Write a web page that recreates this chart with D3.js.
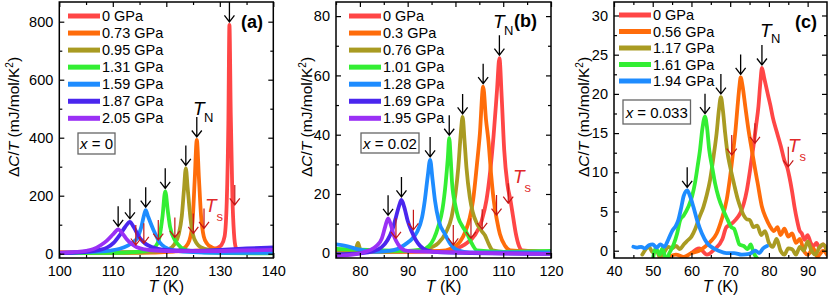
<!DOCTYPE html>
<html>
<head>
<meta charset="utf-8">
<script src="https://cdn.jsdelivr.net/npm/d3@7"></script>
<style>
  body { margin: 0; background: #fff; }
  svg text { font-family: 'Liberation Sans', Arial, Helvetica, sans-serif; }
</style>
</head>
<body>
<script>
// ---- data: [T (K), dC/T] ----

// (a) x = 0
const a0 = [[100,5],[105,6],[110,5],[115,6],[120,8],[125,10],[128,14],[129.5,20],[130.3,30],[130.9,60],[131.3,180],[131.6,450],[131.8,789],[132.05,480],[132.35,200],[132.65,70],[133,20],[133.5,6],[135,3],[140,3]];
const a1 = [[100,3],[110,3],[118,4],[121,7],[122.5,12],[123.5,22],[124.3,45],[124.9,110],[125.3,250],[125.7,392],[126.1,260],[126.5,130],[127,60],[127.6,35],[128.5,22],[130,14],[133,8],[140,4]];
const a2 = [[100,2],[110,3],[116,5],[119,9],[120.5,16],[121.5,32],[122.3,65],[122.9,130],[123.3,220],[123.65,294],[124,225],[124.5,125],[125,65],[125.7,35],[126.5,22],[128,13],[132,7],[140,4]];
const a3 = [[100,2],[108,3],[113,5],[115.5,8],[117,14],[118,25],[118.7,55],[119.3,130],[119.8,215],[120.3,145],[120.7,93],[121.6,47],[122.3,30],[123,18],[125,8],[130,3],[140,1]];
const a4 = [[100,3],[104,5],[107,7],[109.5,11],[111.3,17],[112.8,28],[113.8,40],[114.6,55],[115.3,90],[115.8,130],[116.15,150],[116.6,128],[117.6,82],[118.8,38],[119.8,22],[121,13],[124,6],[130,3],[140,3]];
const a5 = [[100,2],[103,4],[105.5,7],[107.5,13],[108.9,21],[110.2,38],[111.3,64],[112.3,92],[113.2,110],[113.9,92],[115.1,53],[116.2,33],[117.5,22],[119,15],[122,11],[126,10],[130,13],[135,18],[140,22]];
const a6 = [[100,3],[103,6],[105,10],[106.4,16],[107.8,30],[108.9,45],[110,66],[110.5,76],[111,84],[111.8,70],[112.6,50],[113.5,34],[114.5,22],[116,15],[118,11],[122,9],[128,9],[134,11],[140,13]];
const labelsA = ["0 GPa", "0.73 GPa", "0.95 GPa", "1.31 GPa", "1.59 GPa", "1.87 GPa", "2.05 GPa"];
const tnA = [[131.8,789],[125.7,392],[123.65,294],[119.8,215],[116.15,150],[113.2,110],[111,84]];
const tsA = [[114.3,30],[115.8,36],[118.5,47],[121.6,56],[125.05,70],[127.05,87],[132.8,168]];

// (b) x = 0.02
const b0 = [[75,0.5],[90,0.5],[98,0.8],[100,1.5],[102,3],[104,6],[105.5,11],[106.5,18],[107.3,28],[108,40],[108.7,55],[109.2,65.8],[109.7,52],[110.2,35],[110.9,23],[111.5,18],[112,13],[112.6,7],[113.3,2.5],[114,1],[120,0.5]];
const b1 = [[75,0.5],[90,0.6],[95,0.7],[98,1],[100,2.5],[101,4],[102,7],[103,12],[103.7,18],[104.5,30],[105.1,40],[105.8,56.2],[106.4,45],[106.9,38],[107.5,26],[108,18],[108.7,11],[109.3,6.5],[110.4,2.5],[111.5,1],[120,0.5]];
const b2 = [[75,0.5],[79,0.8],[79.6,3.5],[80.2,0.8],[85,0.5],[90,0.7],[94,1.5],[96.4,3.4],[98,7],[99.2,12.3],[100,20],[100.6,29],[101.1,40],[101.5,46],[101.9,38],[102.3,29],[103,19],[103.6,14],[104.5,10],[105.5,7.5],[106.2,6],[107,3],[107.8,1],[110,0.5],[120,0.5]];
const b3 = [[75,1.5],[80,1.2],[85,1],[90,0.8],[93,1.2],[94.5,2.5],[95.5,5],[96.4,9],[97.3,15],[97.95,23.6],[98.4,32],[98.7,38.8],[99,32],[99.3,23.6],[100,16],[100.6,12],[101.5,9],[102.5,6.5],[103.2,4],[104.5,1],[110,0.5],[120,0.8]];
const b4 = [[75,3],[77,2.5],[80,1.2],[83,0.5],[86,0.8],[88,1.5],[89.5,3],[91,5],[91.9,7],[93,12],[93.6,18],[94.2,26],[94.7,31.5],[95.2,25],[95.7,18],[96.5,11],[97.8,6.5],[99,3],[100.5,1],[103,0.3],[120,0.3]];
const b5 = [[75,-0.3],[80,0],[83,0.8],[84.5,2],[85.8,4.5],[86.8,8],[87.6,12.5],[88.2,16],[88.7,18],[89.3,15.5],[90,11],[90.8,7.5],[91.7,4.5],[92.6,2.5],[94,1],[97,0.3],[120,-0.2]];
const b6 = [[75,-0.8],[78,-0.5],[80,0],[82,1],[83.5,2.5],[84.6,5],[85.3,9],[85.9,11.8],[86.5,9.5],[87.2,5.5],[88,3],[88.8,1.5],[90,0.8],[95,0.5],[100,0.3],[110,0],[120,-0.2]];
const labelsB = ["0 GPa", "0.3 GPa", "0.76 GPa", "1.01 GPa", "1.28 GPa", "1.69 GPa", "1.95 GPa"];
const tnB = [[109.2,65.8],[105.8,56.2],[101.5,46],[98.7,38.8],[94.7,31.5],[88.7,18],[85.9,11.8]];
const tsB = [[87.55,5.05],[91.2,7.9],[99.55,2.8],[103.25,5.05],[105.6,8.1],[108.6,12.9],[111.05,16.9]];

// (c) x = 0.033
const c0 = [[60,-0.3],[62,0.3],[64,-0.5],[66,0.2],[68,1.5],[69,3],[70,3.3],[71.5,4],[72.6,4.8],[73.5,6],[74.3,7.7],[75.2,10.5],[76,13.3],[76.7,16],[77.3,18.4],[77.8,21.5],[78.2,23.3],[78.8,22],[79.7,20],[80.4,18.5],[81,17],[82,15.2],[83.1,13.3],[84,11.5],[84.8,10.5],[85.3,9.4],[86,7.5],[86.6,5.6],[87.3,3.8],[87.9,2.6],[88.5,2.2],[89.2,1.4],[90,2],[90.8,1],[91.5,0.6],[92.3,1],[93,0.4],[94,0.8],[95,0]];
const c1 = [[54,-0.8],[56,-0.5],[58,-0.8],[60,-0.3],[62,0],[63.5,0.5],[65,1.2],[66.5,2.2],[67.8,4],[69.1,6.5],[70,9.5],[70.8,12.8],[71.4,15.5],[71.9,18.4],[72.4,21],[72.7,22.1],[73.2,21],[73.9,18.4],[74.7,15.5],[75.6,12.8],[76.4,10.5],[77.1,8.6],[78.2,5.6],[79.2,4.2],[80.3,3.1],[81.3,2.5],[82.2,3],[83,2],[84,2.8],[85,1.8],[86,2.2],[87,1],[88,1.5],[89,0],[90,-0.5],[91.5,0.3],[92.5,-0.8],[94,0],[95,-0.5]];
const c2 = [[47.3,-0.5],[49,0.5],[50,-0.2],[51,0],[52,-1],[53,-0.2],[54,0.5],[55,0.3],[56,0.6],[57,0.2],[58,0.8],[59,1.3],[60,1.8],[61,2.8],[62,4.2],[63.1,5.6],[64,7.2],[64.8,9],[65.7,12],[66.5,15],[67.1,18],[67.6,19.6],[68.1,18],[68.7,15],[69.3,12.5],[70,10.7],[71,8.5],[72,6.5],[72.6,5.6],[73.5,4.5],[74.3,4],[75.1,3.9],[76,3],[77,3.2],[78,2],[79,2.5],[80,1],[81,0.5],[82,1.5],[83,0],[84,-0.5],[85,0.3],[86,0.2],[87,-0.5],[88,0.5],[89,0],[90,1.2],[91,0],[92,-0.5],[93,0.4],[94,0.8],[95,0]];
const c3 = [[50,-1.2],[50.8,0.3],[51.8,-0.5],[52.5,0.3],[53.5,-1.2],[54.3,-0.3],[55.4,0.8],[56.3,2.2],[57.1,3.9],[58,4.5],[59.2,5.6],[60.2,7],[60.9,8.6],[61.6,10.8],[62.2,12.8],[62.8,15.5],[63.5,17.1],[64,15.8],[64.6,12.8],[65.3,10.8],[66.1,8.6],[67,6.8],[68.2,5.2],[69.3,4],[70.3,3],[71,2.8],[71.7,1.8],[72.4,0.8],[73.5,0.6],[74.5,0.2],[75.3,0.8],[76,-0.2],[77,-1]];
const c4 = [[45,0.5],[46,0.4],[47,0.5],[48,0.3],[49,0.7],[50,0.8],[51,0.4],[52,0.8],[53,0.5],[54,1.4],[55,2.5],[56,3.2],[56.6,3.9],[57.4,5.6],[58,7],[58.9,7.7],[59.6,7],[60.5,5.6],[61.5,3.8],[62.7,2.2],[64,1],[65.7,0.3],[67,0],[69,-0.3],[71,-0.3],[73,-0.5],[75,-0.4],[76.5,0],[77.5,-0.3],[78.5,0.3],[79.5,0.6]];
const labelsC = ["0 GPa", "0.56 GPa", "1.17 GPa", "1.61 GPa", "1.94 GPa"];
const tnC = [[78.2,23.3],[72.7,22.1],[67.6,19.6],[63.5,17.1],[58.9,7.7]];
const tsC = [[70.4,12.2],[76.4,13.7],[85.0,10.7]];

const colors = ["#ff4646", "#ff6c0a", "#a99b22", "#33ee33", "#1e8cff", "#4a26ee", "#9a30f5"];

// ---- layout ----
const W = 830, H = 299;
const TOP = 2, BOTTOM = 258;

const svg = d3.select("body").append("svg")
    .attr("width", W)
    .attr("height", H);

const panels = [
  { id: "a", left: 59.3, right: 273.3, xDom: [100, 140], yDom: [-14.8, 867.9],
    xMajor: d3.range(100, 141, 10), xMinor: d3.range(105, 140, 10),
    yMajor: [0, 200, 400, 600, 800], yMinor: [100, 300, 500, 700],
    series: [a0, a1, a2, a3, a4, a5, a6], labels: labelsA, tn: tnA, ts: tsA,
    leg: { x: 68, y: 16, dy: 17.05 },
    box: { x: 78, y: 133, w: 37, h: 21, val: "0" },
    tag: { x: 241, y: 28, t: "(a)" },
    tnLab: { x: 193, y: 115 }, tsLab: { x: 205, y: 211.5 },
    yTitleX: 14 },
  { id: "b", left: 336, right: 551, xDom: [75, 120], yDom: [-1.59, 84.76],
    xMajor: d3.range(80, 121, 10), xMinor: d3.range(75, 120, 10),
    yMajor: [0, 20, 40, 60, 80], yMinor: [10, 30, 50, 70],
    series: [b0, b1, b2, b3, b4, b5, b6], labels: labelsB, tn: tnB, ts: tsB,
    leg: { x: 349, y: 16, dy: 17.05 },
    box: { x: 361, y: 133, w: 58, h: 20, val: "0.02" },
    tag: { x: 514, y: 27, t: "(b)" },
    tnLab: { x: 493, y: 28 }, tsLab: { x: 513, y: 183 },
    yTitleX: 307 },
  { id: "c", left: 614, right: 827, xDom: [40, 95], yDom: [-0.93, 31.72],
    xMajor: d3.range(40, 91, 10), xMinor: d3.range(45, 95, 10),
    yMajor: [0, 5, 10, 15, 20, 25, 30], yMinor: [2.5, 7.5, 12.5, 17.5, 22.5, 27.5],
    series: [c0, c1, c2, c3, c4], labels: labelsC, tn: tnC, ts: tsC,
    leg: { x: 619, y: 15, dy: 16.5 },
    box: { x: 623, y: 100, w: 67.5, h: 24, val: "0.033" },
    tag: { x: 795, y: 28, t: "(c)" },
    tnLab: { x: 760, y: 36.5 }, tsLab: { x: 788, y: 151.5 },
    yTitleX: 584 }
];

function arrow(g, px, tipY, color, sw) {
    g.append("path")
        .attr("d", `M${px},${tipY - 20}V${tipY}M${px - 5},${tipY - 6.5}L${px},${tipY}L${px + 5},${tipY - 6.5}`)
        .attr("fill", "none")
        .attr("stroke", color)
        .attr("stroke-width", sw);
}

panels.forEach(p => {
    const x = d3.scaleLinear().domain(p.xDom).range([p.left, p.right]);
    const y = d3.scaleLinear().domain(p.yDom).range([BOTTOM, TOP]);
    const g = svg.append("g").attr("class", "panel-" + p.id);

    svg.append("clipPath").attr("id", "clip-" + p.id)
      .append("rect")
        .attr("x", p.left).attr("y", TOP)
        .attr("width", p.right - p.left).attr("height", BOTTOM - TOP);

    // curves
    const line = d3.line()
        .x(d => x(d[0]))
        .y(d => y(d[1]))
        .curve(d3.curveMonotoneX);

    g.append("g")
        .attr("clip-path", `url(#clip-${p.id})`)
      .selectAll("path")
      .data(p.series)
      .join("path")
        .attr("d", line)
        .attr("fill", "none")
        .attr("stroke", (d, i) => colors[i])
        .attr("stroke-width", 3.8)
        .attr("stroke-linejoin", "round")
        .attr("stroke-linecap", "round");

    // ticks (inward, mirrored)
    const fmt = d3.format("~g");
    g.append("g").attr("transform", `translate(0,${BOTTOM})`)
        .call(d3.axisBottom(x).tickValues(p.xMajor).tickSize(-5).tickPadding(8).tickFormat(fmt));
    g.append("g").attr("transform", `translate(0,${BOTTOM})`)
        .call(d3.axisBottom(x).tickValues(p.xMinor).tickSize(-3).tickFormat(""));
    g.append("g").attr("transform", `translate(0,${TOP})`)
        .call(d3.axisTop(x).tickValues(p.xMajor).tickSize(-5).tickFormat(""));
    g.append("g").attr("transform", `translate(0,${TOP})`)
        .call(d3.axisTop(x).tickValues(p.xMinor).tickSize(-3).tickFormat(""));
    g.append("g").attr("transform", `translate(${p.left},0)`)
        .call(d3.axisLeft(y).tickValues(p.yMajor).tickSize(-5).tickPadding(6).tickFormat(fmt));
    g.append("g").attr("transform", `translate(${p.left},0)`)
        .call(d3.axisLeft(y).tickValues(p.yMinor).tickSize(-3).tickFormat(""));
    g.append("g").attr("transform", `translate(${p.right},0)`)
        .call(d3.axisRight(y).tickValues(p.yMajor).tickSize(-5).tickFormat(""));
    g.append("g").attr("transform", `translate(${p.right},0)`)
        .call(d3.axisRight(y).tickValues(p.yMinor).tickSize(-3).tickFormat(""));

    g.selectAll(".domain").remove();
    g.selectAll(".tick line").attr("stroke", "#000").attr("stroke-width", 1.2);
    g.selectAll(".tick text")
        .attr("font-size", 14.5)
        .attr("font-family", "'Liberation Sans', Arial, sans-serif")
        .attr("fill", "#000");

    // frame
    g.append("rect")
        .attr("x", p.left).attr("y", TOP)
        .attr("width", p.right - p.left).attr("height", BOTTOM - TOP)
        .attr("fill", "none")
        .attr("stroke", "#000")
        .attr("stroke-width", 1.5);

    // axis titles
    const xt = g.append("text")
        .attr("x", (p.left + p.right) / 2)
        .attr("y", 292)
        .attr("text-anchor", "middle")
        .attr("font-size", 16);
    xt.append("tspan").attr("font-style", "italic").text("T");
    xt.append("tspan").text(" (K)");

    const yt = g.append("text")
        .attr("transform", `translate(${p.yTitleX},117) rotate(-90)`)
        .attr("text-anchor", "middle")
        .attr("dy", "0.35em")
        .attr("font-size", 15.5);
    yt.append("tspan").text("\u0394");
    yt.append("tspan").attr("font-style", "italic").text("C");
    yt.append("tspan").text("/");
    yt.append("tspan").attr("font-style", "italic").text("T");
    yt.append("tspan").text(" (mJ/mol/K");
    yt.append("tspan").attr("font-size", 10).attr("dy", -6).text("2");
    yt.append("tspan").attr("dy", 6).text(")");

    // legend
    const leg = g.append("g");
    p.labels.forEach((lab, i) => {
        const ly = p.leg.y + i * p.leg.dy;
        leg.append("line")
            .attr("x1", p.leg.x).attr("x2", p.leg.x + 32)
            .attr("y1", ly).attr("y2", ly)
            .attr("stroke", colors[i])
            .attr("stroke-width", 5);
        leg.append("text")
            .attr("x", p.leg.x + 34)
            .attr("y", ly + 5)
            .attr("font-size", 14.5)
            .text(lab);
    });

    // composition box
    g.append("rect")
        .attr("x", p.box.x).attr("y", p.box.y)
        .attr("width", p.box.w).attr("height", p.box.h)
        .attr("fill", "#fff")
        .attr("stroke", "#666")
        .attr("stroke-width", 1.3);
    const bt = g.append("text")
        .attr("x", p.box.x + p.box.w / 2)
        .attr("y", p.box.y + p.box.h / 2 + 5.5)
        .attr("text-anchor", "middle")
        .attr("font-size", 15);
    bt.append("tspan").attr("font-style", "italic").text("x");
    bt.append("tspan").text(" = " + p.box.val);

    // panel tag
    g.append("text")
        .attr("x", p.tag.x).attr("y", p.tag.y)
        .attr("font-size", 18)
        .attr("font-weight", "bold")
        .text(p.tag.t);

    // T_N arrows and label
    p.tn.forEach(d => arrow(g, x(d[0]), y(d[1]) - 3, "#000", 1.3));
    g.append("text")
        .attr("x", p.tnLab.x).attr("y", p.tnLab.y)
        .attr("font-size", 19).attr("font-style", "italic")
        .text("T");
    g.append("text")
        .attr("x", p.tnLab.x + 11).attr("y", p.tnLab.y + 6.5)
        .attr("font-size", 13)
        .text("N");

    // T_s arrows and label
    p.ts.forEach(d => arrow(g, x(d[0]), y(d[1]), "#c41616", 1.2));
    g.append("text")
        .attr("x", p.tsLab.x).attr("y", p.tsLab.y)
        .attr("font-size", 19).attr("font-style", "italic")
        .attr("fill", "#e02a2a")
        .text("T");
    g.append("text")
        .attr("x", p.tsLab.x + 11.5).attr("y", p.tsLab.y + 9)
        .attr("font-size", 13)
        .attr("fill", "#e02a2a")
        .text("s");
});
</script>
</body>
</html>
